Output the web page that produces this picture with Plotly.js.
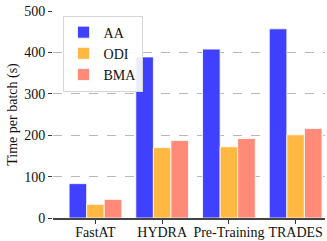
<!DOCTYPE html>
<html>
<head>
<meta charset="utf-8">
<script src="https://cdn.plot.ly/plotly-3.0.1.min.js"></script>
<style>html,body{margin:0;padding:0;background:#fff;}#chart{width:327px;height:241px;}</style>
</head>
<body>
<div id="chart"></div>
<script>
const categories = ["FastAT", "HYDRA", "Pre-Training", "TRADES"];
const seriesNames = ["AA", "ODI", "BMA"];
const aaValues = [83, 389, 408, 457];
const odiValues = [33, 170, 172, 201];
const bmaValues = [45, 187, 192, 216];
const yTickValues = [0, 100, 200, 300, 400, 500];

const colors = ["#4040ff", "#ffb942", "#ff8a78"];
const values = [aaValues, odiValues, bmaValues];
const font = {family: "'Liberation Serif', 'Times New Roman', Times, serif", size: 14, color: "#111"};

const traces = seriesNames.map((n, i) => ({
  type: "bar",
  name: n,
  x: categories,
  y: values[i],
  marker: {color: colors[i], line: {color: "#fff", width: 0.8}}
}));

const layout = {
  width: 327, height: 241,
  margin: {l: 53, r: 2, t: 11, b: 22.5},
  paper_bgcolor: "#fff", plot_bgcolor: "#fff",
  font: font,
  barmode: "group",
  bargap: 0.21,
  bargroupgap: 0,
  showlegend: true,
  legend: {
    x: 0.035, y: 0.978, xanchor: "left", yanchor: "top",
    bgcolor: "rgba(255,255,255,0.9)", bordercolor: "#d6d6d6", borderwidth: 1,
    font: font, tracegroupgap: 0, itemwidth: 30
  },
  xaxis: {
    type: "category",
    range: [-0.636, 3.44],
    showgrid: false,
    showline: true, linecolor: "#444", linewidth: 1.5,
    ticks: "outside", ticklen: 4, tickwidth: 1, tickcolor: "#333",
    ticklabelstandoff: -3,
    tickfont: font, zeroline: false
  },
  yaxis: {
    range: [0, 500],
    tickvals: yTickValues,
    ticktext: yTickValues.map(String),
    showgrid: true, gridcolor: "#b8b8b8", griddash: "dash", gridwidth: 1,
    showline: false, zeroline: false,
    ticks: "outside", ticklen: 4, tickwidth: 1, tickcolor: "#333",
    tickfont: font,
    title: {text: "Time per batch (s)", font: font, standoff: 3}
  }
};

Plotly.newPlot("chart", traces, layout, {displayModeBar: false, staticPlot: true});
</script>
</body>
</html>
